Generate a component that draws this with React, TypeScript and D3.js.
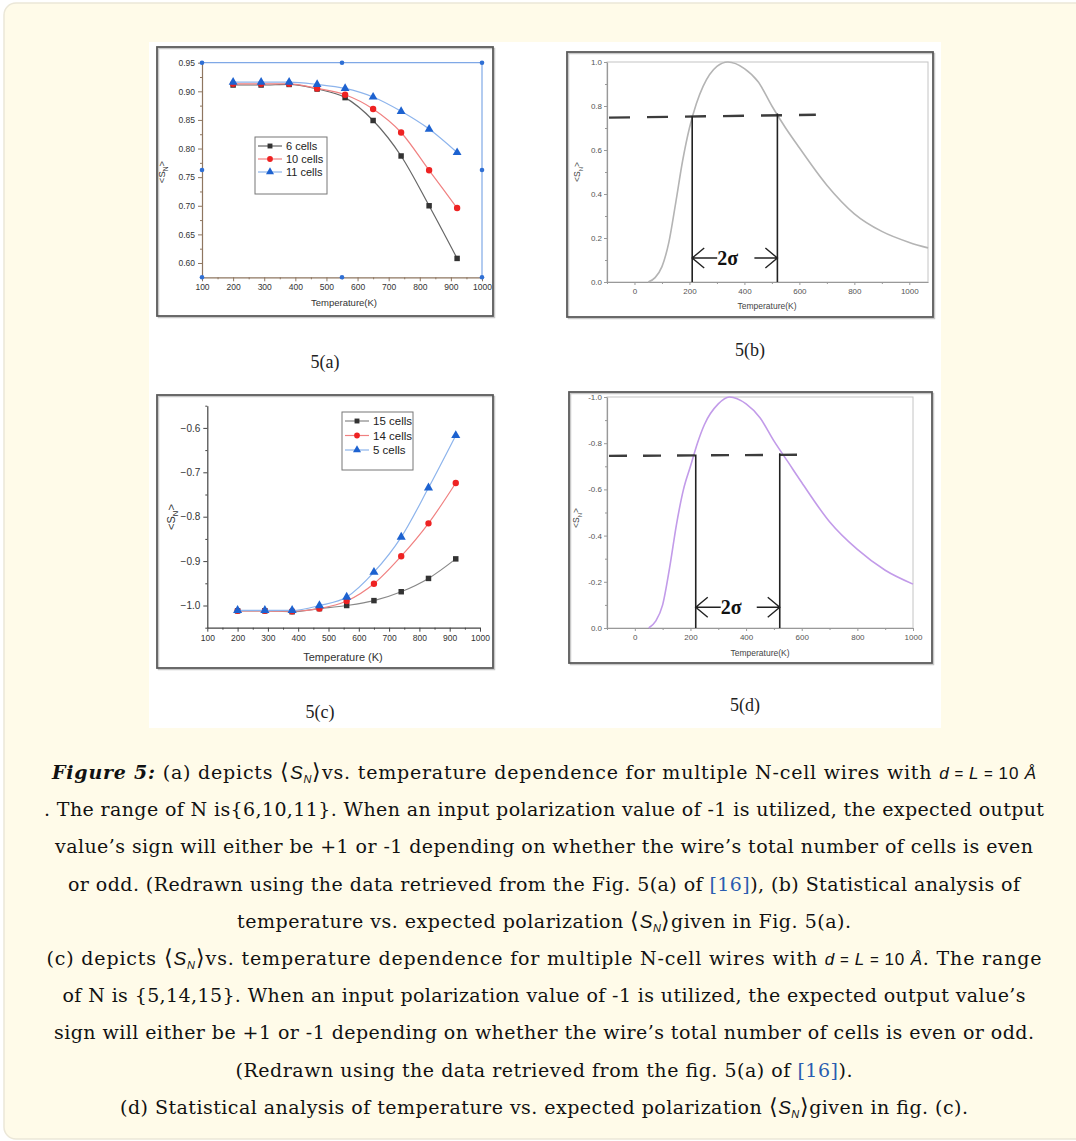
import React, { useEffect, useRef } from "react";
import * as d3 from "d3";

const W = 1076;
const H = 1141;

// panel (a): <S_N> vs temperature, N = 6, 10, 11
const tempA = [200, 290, 380, 470, 560, 650, 740, 830, 920];
const cells6 = [0.911, 0.911, 0.912, 0.904, 0.889, 0.849, 0.787, 0.7, 0.608];
const cells10 = [0.913, 0.913, 0.913, 0.905, 0.894, 0.869, 0.828, 0.762, 0.696];
const cells11 = [0.916, 0.916, 0.916, 0.912, 0.905, 0.89, 0.865, 0.834, 0.793];
const yTicksA = [0.6, 0.65, 0.7, 0.75, 0.8, 0.85, 0.9, 0.95];
const xTicksAC = [100, 200, 300, 400, 500, 600, 700, 800, 900, 1000];
const handlesA = [[100, 0.95], [550, 0.95], [1000, 0.95], [100, 0.7625], [1000, 0.7625], [100, 0.575], [550, 0.575], [1000, 0.575]];

// panel (c): N = 15, 14, 5
const tempC = [200, 290, 380, 470, 560, 650, 740, 830, 920];
const cells15 = [-1.012, -1.012, -1.014, -1.007, -1.0, -0.989, -0.969, -0.939, -0.895];
const cells14 = [-1.012, -1.012, -1.013, -1.007, -0.99, -0.951, -0.889, -0.815, -0.724];
const cells5 = [-1.011, -1.011, -1.011, -1.0, -0.981, -0.925, -0.846, -0.735, -0.617];
const yTicksC = [-1.0, -0.9, -0.8, -0.7, -0.6];

// panels (b) and (d): statistical curves
const tempB = [50, 75, 100, 125, 150, 175, 200, 225, 250, 300, 340, 400, 450, 500, 550, 600, 700, 800, 900, 1000, 1068];
const curveB = [0, 0.02, 0.07, 0.18, 0.36, 0.55, 0.7, 0.81, 0.89, 0.98, 1.0, 0.97, 0.91, 0.8, 0.7, 0.61, 0.44, 0.31, 0.23, 0.18, 0.155];
const tempD = [50, 75, 100, 125, 150, 175, 200, 225, 250, 300, 340, 400, 450, 500, 550, 600, 700, 800, 900, 1000];
const curveD = [0, 0.03, 0.1, 0.26, 0.45, 0.6, 0.7, 0.8, 0.88, 0.97, 1.0, 0.97, 0.91, 0.81, 0.72, 0.63, 0.46, 0.34, 0.25, 0.19];
const xTicksBD = [0, 200, 400, 600, 800, 1000];
const yTicksBD = [0, 0.2, 0.4, 0.6, 0.8, 1.0];
const sigmaB = [210, 520];
const levelB = [0.747, 0.76];
const sigmaD = [219, 521];
const levelD = [0.745, 0.75];

// caption line widths (px)
const captionWidths = [984, 1000, 978, 952, 614, 995, 963, 980, 617, 848];

const SANS = "Liberation Sans, Arial, sans-serif";
const SERIF = "Liberation Serif, Times New Roman, serif";
const CAP = "DejaVu Serif, serif";

type Sel = d3.Selection<SVGGElement, unknown, null, undefined>;

function frame(g: Sel, x: number, y: number, w: number, h: number) {
  g.append("rect").attr("x", x + 1.5).attr("y", y + 1.5).attr("width", w).attr("height", h)
    .attr("fill", "none").attr("stroke", "#c8c8c8").attr("stroke-width", 1.5);
  g.append("rect").attr("x", x).attr("y", y).attr("width", w).attr("height", h)
    .attr("fill", "none").attr("stroke", "#5a5a5a").attr("stroke-width", 1.8);
}

function styleAxis(a: Sel, color: string, textColor: string, size: number) {
  a.select(".domain").attr("stroke", color).attr("stroke-width", 1.2);
  a.selectAll(".tick line").attr("stroke", color);
  a.selectAll(".tick text").attr("fill", textColor).attr("font-size", size).attr("font-family", SANS);
}

function yLabel(g: Sel, x: number, y: number, size: number, color: string) {
  const t = g.append("text").attr("transform", `translate(${x},${y}) rotate(-90)`)
    .attr("text-anchor", "middle").attr("font-family", SANS).attr("font-size", size).attr("fill", color);
  t.append("tspan").text("<S");
  t.append("tspan").attr("font-size", size * 0.7).attr("dy", 3).text("N");
  t.append("tspan").attr("dy", -3).text(">");
}

function series(g: Sel, x: any, y: any, xs: number[], ys: number[], line: string, mark: string, shape: any, size: number) {
  const pts = xs.map((v, i) => [v, ys[i]] as [number, number]);
  g.append("path").datum(pts).attr("fill", "none").attr("stroke", line).attr("stroke-width", 1.2)
    .attr("d", d3.line().x((d) => x(d[0])).y((d) => y(d[1])).curve(d3.curveMonotoneX));
  g.selectAll(null).data(pts).enter().append("path")
    .attr("transform", (d) => `translate(${x(d[0])},${y(d[1])})`)
    .attr("d", d3.symbol().type(shape).size(size)())
    .attr("fill", mark);
}

function legend(g: Sel, x0: number, y0: number, w: number, h: number, rows: any[], fs: number, step: number) {
  g.append("rect").attr("x", x0).attr("y", y0).attr("width", w).attr("height", h)
    .attr("fill", "#fff").attr("stroke", "#777").attr("stroke-width", 1);
  rows.forEach((r, i) => {
    const yy = y0 + 9 + i * step;
    g.append("line").attr("x1", x0 + 3).attr("x2", x0 + 27).attr("y1", yy).attr("y2", yy)
      .attr("stroke", r.line).attr("stroke-width", 1.2);
    g.append("path").attr("transform", `translate(${x0 + 15},${yy})`)
      .attr("d", d3.symbol().type(r.shape).size(r.size)()).attr("fill", r.mark);
    g.append("text").attr("x", x0 + 31).attr("y", yy + fs * 0.36).attr("font-family", SANS)
      .attr("font-size", fs).attr("fill", "#222").text(r.name);
  });
}

function drawA(root: Sel) {
  const g = root.append("g");
  frame(g, 157, 47, 336, 269);
  const x = d3.scaleLinear().domain([100, 1000]).range([202, 482]);
  const y = d3.scaleLinear().domain([0.575, 0.95]).range([277.3, 62.7]);
  const brown = "#8e7660";
  const blue = "#7fa8e6";
  g.append("line").attr("x1", x(100)).attr("x2", x(1000)).attr("y1", y(0.95)).attr("y2", y(0.95)).attr("stroke", blue).attr("stroke-width", 1.2);
  g.append("line").attr("x1", x(1000)).attr("x2", x(1000)).attr("y1", y(0.575)).attr("y2", y(0.95)).attr("stroke", blue).attr("stroke-width", 1.2);

  const ya = g.append("g").attr("transform", `translate(${x(100)},0)`)
    .call(d3.axisLeft(y).tickValues(yTicksA).tickFormat(d3.format(".2f")).tickSize(4).tickSizeOuter(0).tickPadding(3));
  styleAxis(ya, brown, "#333", 8.5);
  const ym = g.append("g").attr("transform", `translate(${x(100)},0)`)
    .call(d3.axisLeft(y).tickValues(d3.range(0.625, 0.95, 0.05)).tickFormat(() => "").tickSize(2).tickSizeOuter(0));
  ym.select(".domain").remove();
  ym.selectAll(".tick line").attr("stroke", brown);

  const xa = g.append("g").attr("transform", `translate(0,${y(0.575)})`)
    .call(d3.axisBottom(x).tickValues(xTicksAC).tickFormat(d3.format("d")).tickSize(4).tickSizeOuter(0).tickPadding(3));
  styleAxis(xa, brown, "#333", 8.5);
  const xm = g.append("g").attr("transform", `translate(0,${y(0.575)})`)
    .call(d3.axisBottom(x).tickValues(d3.range(150, 1000, 100)).tickFormat(() => "").tickSize(2).tickSizeOuter(0));
  xm.select(".domain").remove();
  xm.selectAll(".tick line").attr("stroke", brown);

  g.selectAll(null).data(handlesA).enter().append("circle")
    .attr("cx", (d) => x(d[0])).attr("cy", (d) => y(d[1])).attr("r", 2.3).attr("fill", "#2f6fd4");

  series(g, x, y, tempA, cells6, "#666", "#333", d3.symbolSquare, 30);
  series(g, x, y, tempA, cells10, "#f08080", "#ee2222", d3.symbolCircle, 32);
  series(g, x, y, tempA, cells11, "#8db4ec", "#1d62d0", d3.symbolTriangle, 34);

  legend(g, 255, 137, 72, 57, [
    { name: "6 cells", line: "#666", mark: "#333", shape: d3.symbolSquare, size: 24 },
    { name: "10 cells", line: "#f08080", mark: "#ee2222", shape: d3.symbolCircle, size: 26 },
    { name: "11 cells", line: "#8db4ec", mark: "#1d62d0", shape: d3.symbolTriangle, size: 28 },
  ], 11, 13);

  yLabel(g, 165, 172, 9.5, "#333");
  g.append("text").attr("x", 344).attr("y", 306).attr("text-anchor", "middle")
    .attr("font-family", SANS).attr("font-size", 9.5).attr("fill", "#333").text("Temperature(K)");
}

function drawC(root: Sel) {
  const g = root.append("g");
  frame(g, 157, 395, 336, 273);
  const x = d3.scaleLinear().domain([100, 1000]).range([207.3, 480]);
  const y = d3.scaleLinear().domain([-1.05, -0.55]).range([627.7, 405.7]);
  const ya = g.append("g").attr("transform", `translate(${x(100)},0)`)
    .call(d3.axisLeft(y).tickValues(yTicksC).tickFormat((d: any) => "\u2212" + Math.abs(d).toFixed(1)).tickSize(4).tickSizeOuter(0).tickPadding(3));
  styleAxis(ya, "#444", "#333", 10);
  const ym = g.append("g").attr("transform", `translate(${x(100)},0)`)
    .call(d3.axisLeft(y).tickValues([-1.05, -0.95, -0.85, -0.75, -0.65, -0.55]).tickFormat(() => "").tickSize(2).tickSizeOuter(0));
  ym.select(".domain").remove();
  ym.selectAll(".tick line").attr("stroke", "#444");
  const xa = g.append("g").attr("transform", `translate(0,${y(-1.05)})`)
    .call(d3.axisBottom(x).tickValues(xTicksAC).tickFormat(d3.format("d")).tickSize(4).tickSizeOuter(0).tickPadding(3));
  styleAxis(xa, "#444", "#333", 8.5);
  const xm = g.append("g").attr("transform", `translate(0,${y(-1.05)})`)
    .call(d3.axisBottom(x).tickValues(d3.range(150, 1000, 100)).tickFormat(() => "").tickSize(2).tickSizeOuter(0));
  xm.select(".domain").remove();
  xm.selectAll(".tick line").attr("stroke", "#444");

  series(g, x, y, tempC, cells15, "#888", "#333", d3.symbolSquare, 30);
  series(g, x, y, tempC, cells14, "#f08080", "#ee2222", d3.symbolCircle, 32);
  series(g, x, y, tempC, cells5, "#8db4ec", "#1d62d0", d3.symbolTriangle, 36);

  legend(g, 342, 412, 71, 58, [
    { name: "15 cells", line: "#888", mark: "#333", shape: d3.symbolSquare, size: 24 },
    { name: "14 cells", line: "#f08080", mark: "#ee2222", shape: d3.symbolCircle, size: 26 },
    { name: "5 cells", line: "#8db4ec", mark: "#1d62d0", shape: d3.symbolTriangle, size: 28 },
  ], 11.5, 14.5);

  yLabel(g, 175, 517, 11, "#333");
  g.append("text").attr("x", 343).attr("y", 661).attr("text-anchor", "middle")
    .attr("font-family", SANS).attr("font-size", 11).attr("fill", "#333").text("Temperature (K)");
}

function drawStat(root: Sel, o: any) {
  const g = root.append("g");
  frame(g, o.box[0], o.box[1], o.box[2], o.box[3]);
  const x = d3.scaleLinear().domain(o.xd).range(o.xr);
  const y = d3.scaleLinear().domain([0, 1]).range(o.yr);
  g.append("rect").attr("x", o.xr[0]).attr("y", o.yr[1]).attr("width", o.xr[1] - o.xr[0]).attr("height", o.yr[0] - o.yr[1])
    .attr("fill", "none").attr("stroke", "#c4c4c4").attr("stroke-width", 1);
  const ya = g.append("g").attr("transform", `translate(${o.xr[0]},0)`)
    .call(d3.axisLeft(y).tickValues(yTicksBD).tickFormat(o.yfmt).tickSize(3).tickSizeOuter(0).tickPadding(2));
  styleAxis(ya, "#999", "#555", 8);
  const ym = g.append("g").attr("transform", `translate(${o.xr[0]},0)`)
    .call(d3.axisLeft(y).tickValues([0.1, 0.3, 0.5, 0.7, 0.9]).tickFormat(() => "").tickSize(2).tickSizeOuter(0));
  ym.select(".domain").remove();
  ym.selectAll(".tick line").attr("stroke", "#999");
  const xa = g.append("g").attr("transform", `translate(0,${o.yr[0]})`)
    .call(d3.axisBottom(x).tickValues(xTicksBD).tickFormat(d3.format("d")).tickSize(3).tickSizeOuter(0).tickPadding(3));
  styleAxis(xa, "#999", "#555", 8);
  const xm = g.append("g").attr("transform", `translate(0,${o.yr[0]})`)
    .call(d3.axisBottom(x).tickValues([-100, 100, 300, 500, 700, 900]).tickFormat(() => "").tickSize(2).tickSizeOuter(0));
  xm.select(".domain").remove();
  xm.selectAll(".tick line").attr("stroke", "#999");

  const pts = o.t.map((v: number, i: number) => [v, o.v[i]]);
  g.append("path").datum(pts).attr("fill", "none").attr("stroke", o.color).attr("stroke-width", 1.6)
    .attr("d", d3.line<any>().x((d) => x(d[0])).y((d) => y(d[1])).curve(d3.curveMonotoneX));

  // dashed 0.75 level and the 2-sigma markers
  g.append("line").attr("x1", o.xr[0] + 2).attr("x2", x(o.dashEnd)).attr("y1", y(o.level[0])).attr("y2", y(o.level[1]))
    .attr("stroke", "#3c3c3c").attr("stroke-width", 2.4).attr("stroke-dasharray", o.dash);
  const [s1, s2] = o.sigma;
  [s1, s2].forEach((s: number, i: number) => {
    g.append("line").attr("x1", x(s)).attr("x2", x(s)).attr("y1", y(o.level[i] + 0.006)).attr("y2", y(0))
      .attr("stroke", "#222").attr("stroke-width", 1.6);
  });
  const ay = y(o.arrowY);
  const a1 = x(s1), a2 = x(s2);
  const ag = g.append("g").attr("stroke", "#222").attr("stroke-width", 1.4).attr("fill", "none");
  ag.append("path").attr("d", `M${a1 + 12},${ay - 10}L${a1},${ay}L${a1 + 12},${ay + 10}M${a1},${ay}H${a1 + 25}`);
  ag.append("path").attr("d", `M${a2 - 12},${ay - 10}L${a2},${ay}L${a2 - 12},${ay + 10}M${a2},${ay}H${a2 - 23}`);
  g.append("text").attr("x", a1 + 25).attr("y", ay + 6.5).attr("font-family", SERIF).attr("font-size", 20)
    .attr("font-weight", 600).attr("fill", "#111").text("2\u03c3");

  yLabel(g, o.yl[0], o.yl[1], 8.5, "#444");
  g.append("text").attr("x", o.xt[0]).attr("y", o.xt[1]).attr("text-anchor", "middle")
    .attr("font-family", SANS).attr("font-size", 8.5).attr("fill", "#444").text("Temperature(K)");
}

const SN = () => (
  <>
    <tspan fontSize={22} fontFamily="DejaVu Sans" fontWeight={200}>{"\u27e8"}</tspan>
    <tspan fontStyle="italic" fontFamily={SANS}>S</tspan>
    <tspan fontStyle="italic" fontFamily={SANS} fontSize={11} dy={4}>N</tspan>
    <tspan fontSize={22} fontFamily="DejaVu Sans" fontWeight={200} dy={-4}>{"\u27e9"}</tspan>
  </>
);

const Eq = () => (
  <>
    <tspan fontStyle="italic" fontFamily={SANS} fontSize={17}>d</tspan>
    <tspan fontFamily={SANS} fontSize={15}>{" = "}</tspan>
    <tspan fontStyle="italic" fontFamily={SANS} fontSize={17}>L</tspan>
    <tspan fontFamily={SANS} fontSize={15}>{" = "}</tspan>
    <tspan fontFamily={SANS} fontSize={17}>{"10 "}</tspan>
    <tspan fontStyle="italic" fontFamily={SANS} fontSize={17}>{"\u00c5"}</tspan>
  </>
);

const LINK = "#2a5db0";

export default function App() {
  const ref = useRef<SVGSVGElement>(null);

  useEffect(() => {
    document.body.style.margin = "0";
    if (!ref.current) return;
    const svg = d3.select(ref.current);
    svg.selectAll("g.charts").remove();
    const root = svg.append("g").attr("class", "charts") as unknown as Sel;
    drawA(root);
    drawC(root);
    drawStat(root, {
      box: [567, 52, 366, 265], xd: [-100, 1068], xr: [607, 928], yr: [282, 62],
      t: tempB, v: curveB, color: "#b4b4b4", yfmt: d3.format(".1f"),
      sigma: sigmaB, level: levelB, dashEnd: 660, dash: "21 17", arrowY: 0.109,
      yl: [580, 172], xt: [767, 309],
    });
    drawStat(root, {
      box: [569, 392, 363, 271], xd: [-100, 1000], xr: [607, 913], yr: [628, 397],
      t: tempD, v: curveD, color: "#c29be9", yfmt: (v: number) => (v === 0 ? "0.0" : "-" + v.toFixed(1)),
      sigma: sigmaD, level: levelD, dashEnd: 588, dash: "18 16", arrowY: 0.09,
      yl: [579, 518], xt: [760, 656],
    });
  }, []);

  const cx = 544;
  const base = 779;
  const lh = 37.2;
  const line = (i: number) => ({
    x: cx,
    y: base + lh * i,
    textLength: captionWidths[i],
    lengthAdjust: "spacing" as const,
  });

  return (
    <svg ref={ref} width={W} height={H} style={{ display: "block" }} fontFamily={SERIF}>
      <rect x={0} y={0} width={W} height={H} fill="#fff" />
      <rect x={4} y={3} width={1100} height={1136} rx={12} fill="#fffbe9" stroke="#ebe7d8" strokeWidth={1.5} />
      <rect x={149} y={42} width={792} height={686} fill="#fff" />

      <g fontSize={18} fill="#222" textAnchor="middle">
        <text x={325} y={368}>5(a)</text>
        <text x={750} y={356}>5(b)</text>
        <text x={320} y={718}>5(c)</text>
        <text x={745} y={711}>5(d)</text>
      </g>

      <g fontSize={19} fontFamily={CAP} fill="#111" textAnchor="middle">
        <text {...line(0)}>
          <tspan fontWeight="bold" fontStyle="italic">Figure 5:</tspan>
          <tspan>{" (a) depicts "}</tspan>
          <SN />
          <tspan>{"vs. temperature dependence for multiple N-cell wires with "}</tspan>
          <Eq />
        </text>
        <text {...line(1)}>
          . The range of N is{"{"}6,10,11{"}"}. When an input polarization value of -1 is utilized, the expected output
        </text>
        <text {...line(2)}>
          value’s sign will either be +1 or -1 depending on whether the wire’s total number of cells is even
        </text>
        <text {...line(3)}>
          <tspan>or odd. (Redrawn using the data retrieved from the Fig. 5(a) of </tspan>
          <tspan fill={LINK}>[16]</tspan>
          <tspan>), (b) Statistical analysis of</tspan>
        </text>
        <text {...line(4)}>
          <tspan>{"temperature vs. expected polarization "}</tspan>
          <SN />
          <tspan>given in Fig. 5(a).</tspan>
        </text>
        <text {...line(5)}>
          <tspan>{"(c) depicts "}</tspan>
          <SN />
          <tspan>{"vs. temperature dependence for multiple N-cell wires with "}</tspan>
          <Eq />
          <tspan>. The range</tspan>
        </text>
        <text {...line(6)}>
          of N is {"{"}5,14,15{"}"}. When an input polarization value of -1 is utilized, the expected output value’s
        </text>
        <text {...line(7)}>
          sign will either be +1 or -1 depending on whether the wire’s total number of cells is even or odd.
        </text>
        <text {...line(8)}>
          <tspan>(Redrawn using the data retrieved from the fig. 5(a) of </tspan>
          <tspan fill={LINK}>[16]</tspan>
          <tspan>).</tspan>
        </text>
        <text {...line(9)}>
          <tspan>{"(d) Statistical analysis of temperature vs. expected polarization "}</tspan>
          <SN />
          <tspan>given in fig. (c).</tspan>
        </text>
      </g>
    </svg>
  );
}
